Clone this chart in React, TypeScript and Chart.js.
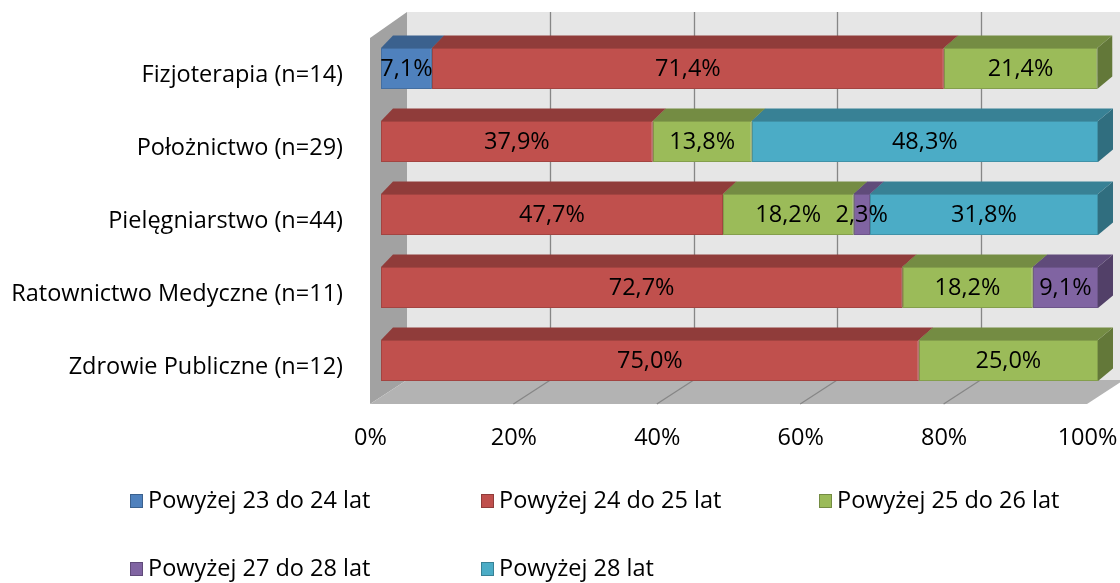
import { useEffect, useRef } from 'react';
import { Chart, registerables } from 'chart.js';

Chart.register(...registerables);

// ---------- data ----------
const categories = [
  'Fizjoterapia (n=14)',
  'Położnictwo (n=29)',
  'Pielęgniarstwo (n=44)',
  'Ratownictwo Medyczne (n=11)',
  'Zdrowie Publiczne (n=12)',
];
const seriesNames = [
  'Powyżej 23 do 24 lat',
  'Powyżej 24 do 25 lat',
  'Powyżej 25 do 26 lat',
  'Powyżej 27 do 28 lat',
  'Powyżej 28 lat',
];
const age23to24 = [7.1, 0, 0, 0, 0];
const age24to25 = [71.4, 37.9, 47.7, 72.7, 75.0];
const age25to26 = [21.4, 13.8, 18.2, 18.2, 25.0];
const age27to28 = [0, 0, 2.3, 9.1, 0];
const age28plus = [0, 48.3, 31.8, 0, 0];
const xTickValues = [0, 20, 40, 60, 80, 100];

const seriesValues = [age23to24, age24to25, age25to26, age27to28, age28plus];
const frontColors = ['#4F81BD', '#C0504D', '#9BBB59', '#8064A2', '#4BACC6'];

const FONT_FAMILY = '"Open Sans", Lato, sans-serif';
const FONT_SIZE = 23.5;

function shade(hex: string, f: number): string {
  const n = parseInt(hex.slice(1), 16);
  const r = Math.round(((n >> 16) & 255) * f);
  const g = Math.round(((n >> 8) & 255) * f);
  const b = Math.round((n & 255) * f);
  return `rgb(${r},${g},${b})`;
}

function fmt(v: number): string {
  return v.toFixed(1).replace('.', ',') + '%';
}

// 3D geometry relative to the front plane of the bars
const BACK_DX = 26;
const FRONT_DX = -11;

function poly(ctx: CanvasRenderingContext2D, pts: number[][]) {
  ctx.beginPath();
  ctx.moveTo(pts[0][0], pts[0][1]);
  for (let i = 1; i < pts.length; i++) ctx.lineTo(pts[i][0], pts[i][1]);
  ctx.closePath();
  ctx.fill();
}

const walls3dPlugin = {
  id: 'walls3d',
  beforeDatasetsDraw(chart: any) {
    const { ctx, chartArea: ca } = chart;
    const xs = chart.scales.x;
    const px = (v: number) => xs.getPixelForValue(v);
    const backTop = ca.top - 20;
    const backBottom = ca.bottom - 17;
    const frontBottom = ca.bottom + 7;
    const depthY = frontBottom - backBottom;
    ctx.save();
    // back wall
    ctx.fillStyle = '#e6e6e6';
    ctx.fillRect(px(0) + BACK_DX, backTop, px(100) - px(0), backBottom - backTop);
    // left side wall
    ctx.fillStyle = '#a2a2a2';
    poly(ctx, [
      [px(0) + FRONT_DX, backTop + depthY + 2],
      [px(0) + BACK_DX, backTop],
      [px(0) + BACK_DX, backBottom],
      [px(0) + FRONT_DX, frontBottom],
    ]);
    // floor
    ctx.fillStyle = '#b3b3b3';
    poly(ctx, [
      [px(0) + FRONT_DX, frontBottom],
      [px(0) + BACK_DX, backBottom],
      [px(100) + BACK_DX, backBottom],
      [px(100) + FRONT_DX, frontBottom],
    ]);
    // grid lines on back wall and floor
    ctx.strokeStyle = '#868686';
    ctx.lineWidth = 1.3;
    xTickValues.forEach((v) => {
      if (v === 0 || v === 100) return;
      const bx = Math.round(px(v) + BACK_DX) + 0.5;
      ctx.beginPath();
      ctx.moveTo(bx, backTop);
      ctx.lineTo(bx, backBottom);
      ctx.stroke();
      ctx.beginPath();
      ctx.moveTo(px(v) + BACK_DX, backBottom);
      ctx.lineTo(px(v) + FRONT_DX, frontBottom);
      ctx.stroke();
    });

    // 3D faces of bars (side faces first, then top faces)
    const dxAt = (p: number) => 12 + 3 * (p - ca.left) / (ca.right - ca.left);
    const dy = 12.5;
    const faces: any[] = [];
    chart.data.datasets.forEach((ds: any, i: number) => {
      const meta = chart.getDatasetMeta(i);
      meta.data.forEach((el: any, j: number) => {
        if (!(ds.data[j] > 0)) return;
        const p = el.getProps(['x', 'y', 'base', 'height'], true);
        const x0 = Math.min(p.x, p.base);
        const x1 = Math.max(p.x, p.base);
        faces.push({ x0, x1, top: p.y - p.height / 2, bottom: p.y + p.height / 2, color: frontColors[i] });
      });
    });
    faces.forEach((f) => {
      ctx.fillStyle = shade(f.color, 0.64);
      const d1 = dxAt(f.x1);
      poly(ctx, [
        [f.x1, f.top],
        [f.x1 + d1, f.top - dy],
        [f.x1 + d1, f.bottom - dy],
        [f.x1, f.bottom],
      ]);
    });
    faces.forEach((f) => {
      ctx.fillStyle = shade(f.color, 0.75);
      poly(ctx, [
        [f.x0, f.top],
        [f.x1, f.top],
        [f.x1 + dxAt(f.x1), f.top - dy],
        [f.x0 + dxAt(f.x0), f.top - dy],
      ]);
    });
    ctx.restore();
  },
  afterDatasetsDraw(chart: any) {
    const { ctx } = chart;
    ctx.save();
    ctx.font = `${FONT_SIZE}px ${FONT_FAMILY}`;
    ctx.fillStyle = '#000';
    ctx.textAlign = 'center';
    ctx.textBaseline = 'middle';
    chart.data.datasets.forEach((ds: any, i: number) => {
      const meta = chart.getDatasetMeta(i);
      meta.data.forEach((el: any, j: number) => {
        const v = ds.data[j];
        if (!(v > 0)) return;
        const p = el.getProps(['x', 'y', 'base'], true);
        ctx.fillText(fmt(v), (p.x + p.base) / 2, p.y + 1);
      });
    });
    ctx.restore();
  },
};

const legendPlugin = {
  id: 'gridLegend',
  afterDraw(chart: any, _args: any, opts: any) {
    const { ctx } = chart;
    const cols: number[] = opts.columns;
    const rows: number[] = opts.rows;
    ctx.save();
    ctx.font = `${FONT_SIZE}px ${FONT_FAMILY}`;
    ctx.textBaseline = 'middle';
    ctx.textAlign = 'left';
    chart.data.datasets.forEach((ds: any, i: number) => {
      const x = cols[i % cols.length];
      const y = rows[Math.floor(i / cols.length)];
      ctx.fillStyle = frontColors[i];
      ctx.fillRect(x, y - 7, 13, 14);
      ctx.strokeStyle = shade(frontColors[i], 0.75);
      ctx.lineWidth = 1;
      ctx.strokeRect(x + 0.5, y - 6.5, 12, 13);
      ctx.fillStyle = '#000';
      ctx.fillText(ds.label, x + 18, y);
    });
    ctx.restore();
  },
};

export default function App() {
  const ref = useRef<HTMLCanvasElement | null>(null);
  useEffect(() => {
    document.body.style.margin = '0';
    const canvas = ref.current;
    if (!canvas) return;
    const chart = new Chart(canvas, {
      type: 'bar',
      data: {
        labels: categories,
        datasets: seriesNames.map((name, i) => ({
          label: name,
          data: seriesValues[i],
          backgroundColor: frontColors[i],
          borderColor: shade(frontColors[i], 0.85),
          borderWidth: 1,
          borderSkipped: false,
          categoryPercentage: 1,
          barPercentage: 0.562,
        })),
      },
      options: {
        indexAxis: 'y',
        responsive: false,
        animation: false,
        devicePixelRatio: 1,
        layout: { padding: { top: 32, right: 22, left: 0, bottom: 0 } },
        plugins: {
          legend: { display: false },
          tooltip: { enabled: false },
          gridLegend: { columns: [130, 481, 819], rows: [501, 569] },
        } as any,
        scales: {
          x: {
            stacked: true,
            min: 0,
            max: 100,
            grid: { display: false },
            border: { display: false },
            afterFit: (s: any) => {
              s.height = 186;
              s.paddingLeft = 0;
              s.paddingRight = 0;
            },
            afterBuildTicks: (s: any) => {
              s.ticks = xTickValues.map((v) => ({ value: v }));
            },
            ticks: {
              callback: (v: any) => v + '%',
              color: '#000',
              font: { family: FONT_FAMILY, size: FONT_SIZE },
              padding: 19,
              labelOffset: -10.5,
              maxRotation: 0,
              autoSkip: false,
            },
          },
          y: {
            stacked: true,
            grid: { display: false },
            border: { display: false },
            afterFit: (s: any) => {
              s.width = 381;
              s.paddingTop = 0;
              s.paddingBottom = 0;
            },
            ticks: {
              color: '#000',
              font: { family: FONT_FAMILY, size: FONT_SIZE },
              padding: 30,
              labelOffset: 6.5,
            },
          },
        },
      },
      plugins: [walls3dPlugin, legendPlugin],
    });
    return () => chart.destroy();
  }, []);
  return (
    <div style={{ position: 'fixed', left: 0, top: 0, width: 1120, height: 583, background: '#fff' }}>
      <canvas ref={ref} width={1120} height={583} style={{ display: 'block' }} />
    </div>
  );
}
